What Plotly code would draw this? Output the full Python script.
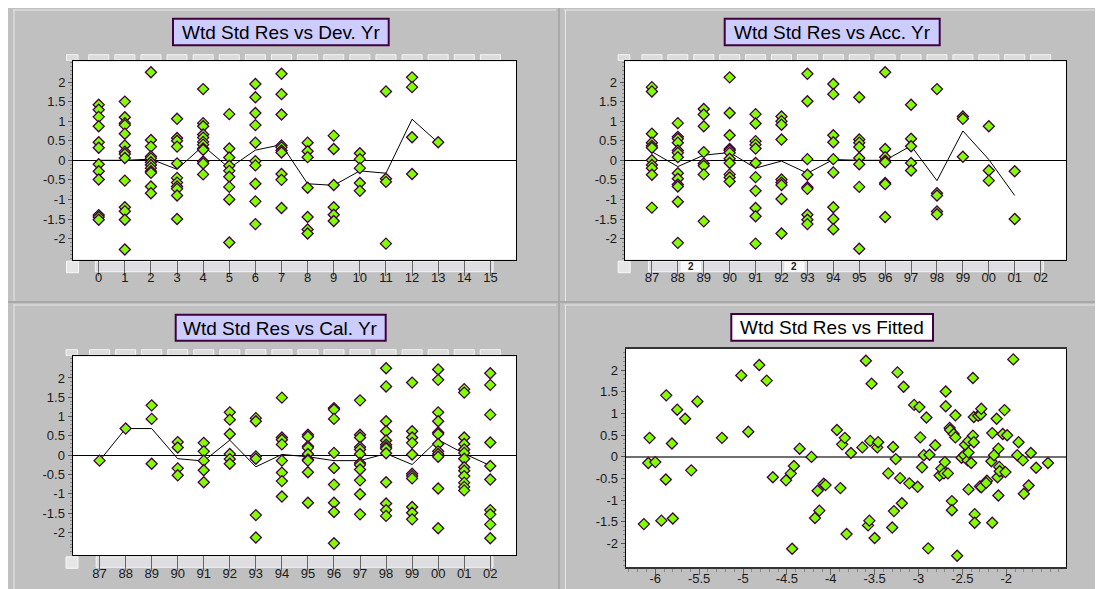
import plotly.graph_objects as go

# ---------------- data ----------------
dev_labels = [str(i) for i in range(16)]
dev_res = [
    [1.42, 1.29, 1.11, 0.87, 0.46, 0.32, -0.1, -0.28, -0.49, -1.4, -1.45, -1.52],
    [1.5, 1.1, 0.95, 0.9, 0.68, 0.38, 0.22, 0.16, 0.06, -0.52, -1.2, -1.3, -1.52, -2.28],
    [2.25, 0.52, 0.35, 0.1, 0.05, -0.05, -0.12, -0.2, -0.28, -0.32, -0.67, -0.84],
    [1.06, 0.57, 0.5, 0.35, -0.08, -0.45, -0.57, -0.67, -0.73, -0.9, -1.5],
    [1.82, 0.95, 0.87, 0.66, 0.58, 0.47, 0.4, 0.3, 0.27, -0.03, -0.08, -0.36],
    [1.18, 0.3, 0.07, -0.14, -0.27, -0.42, -0.68, -1.0, -2.1],
    [1.95, 1.61, 1.21, 0.9, 0.45, -0.02, -0.13, -0.6, -1.05, -1.63],
    [2.21, 1.69, 1.17, 0.38, 0.33, 0.25, 0.2, -0.35, -0.5, -1.22],
    [0.45, 0.23, 0.08, -0.7, -1.45, -1.77, -1.87],
    [0.63, 0.29, -0.63, -1.2, -1.39, -1.55],
    [0.18, 0.03, -0.2, -0.58, -0.78],
    [1.76, -0.47, -0.55, -2.13],
    [2.12, 1.87, 0.59, -0.35],
    [0.46],
]
dev_mean = [0.0, 0.0, 0.03, -0.23, 0.37, -0.2, 0.26, 0.4, -0.6, -0.64, -0.27, -0.33, 1.05, 0.45]

yr_labels = ["87", "88", "89", "90", "91", "92", "93", "94", "95", "96",
             "97", "98", "99", "00", "01", "02"]
acc_res = [
    [1.87, 1.76, 0.68, 0.45, 0.37, 0.32, 0.0, -0.12, -0.2, -0.37, -1.21],
    [0.95, 0.6, 0.55, 0.45, 0.25, 0.19, 0.08, -0.33, -0.47, -0.62, -0.67, -1.06, -2.11],
    [1.31, 1.17, 0.87, 0.21, -0.08, -0.14, -0.36, -1.56],
    [2.12, 1.21, 0.64, 0.29, 0.25, 0.19, 0.04, -0.07, -0.36, -0.44, -0.54],
    [1.18, 0.94, 0.49, 0.4, 0.3, -0.07, -0.43, -0.78, -1.22, -1.43, -2.13],
    [1.12, 1.0, 0.91, 0.53, -0.49, -0.57, -0.63, -0.99, -1.87],
    [2.21, 1.51, 0.03, -0.37, -0.69, -0.73, -1.39, -1.52, -1.63],
    [1.95, 1.69, 0.64, 0.46, 0.03, -0.31, -1.2, -1.5, -1.76],
    [1.61, 0.53, 0.45, 0.34, 0.06, -0.1, -0.68, -2.26],
    [2.25, 0.29, 0.08, -0.01, -0.05, -0.58, -0.61, -1.45],
    [1.42, 0.55, 0.36, -0.07, -0.26],
    [1.82, -0.84, -0.9, -1.31, -1.38],
    [1.12, 1.06, 0.09],
    [0.87, -0.26, -0.52],
    [-0.28, -1.5],
]
acc_mean = [0.22, -0.16, 0.13, 0.2, -0.2, -0.02, -0.33, 0.02, 0.0, 0.0, 0.37, -0.52, 0.75, 0.02, -0.9]

cal_res = [
    [-0.14],
    [0.69],
    [1.29, 0.94, -0.22],
    [0.34, 0.2, -0.34, -0.52],
    [0.32, 0.1, -0.14, -0.39, -0.7],
    [1.11, 0.92, 0.55, 0.03, -0.1, -0.22],
    [0.96, 0.88, -0.03, -0.09, -1.55, -2.13],
    [1.49, 0.46, 0.4, 0.28, -0.14, -0.45, -0.67, -1.07],
    [0.53, 0.48, 0.23, 0.19, 0.03, -0.11, -0.14, -0.44, -1.23],
    [1.22, 1.18, 0.94, 0.06, -0.33, -0.76, -1.23, -1.47, -2.28],
    [1.42, 0.53, 0.46, 0.21, 0.15, 0.03, -0.2, -0.25, -0.37, -0.65, -1.01, -1.53],
    [2.25, 1.78, 0.88, 0.62, 0.38, 0.27, 0.21, 0.17, 0.05, -0.7, -1.25, -1.42, -1.57],
    [1.88, 0.62, 0.46, 0.32, 0.02, -0.48, -0.54, -0.6, -1.34, -1.49, -1.66],
    [2.22, 1.95, 1.11, 0.88, 0.59, 0.55, 0.29, 0.1, 0.03, -0.04, -0.86, -1.89],
    [1.71, 1.62, 0.46, 0.29, 0.15, 0.06, -0.09, -0.31, -0.4, -0.54, -0.71, -0.82, -0.91],
    [2.12, 1.82, 1.05, 0.33, -0.28, -0.63, -1.42, -1.53, -1.79, -2.15],
]
cal_mean = [-0.14, 0.69, 0.69, -0.09, -0.15, 0.39, -0.3, 0.02, -0.04, -0.14, -0.14, 0.04, -0.24, 0.4, 0.04, -0.27]

fit_x = [-6.065, -5.875, -5.81, -5.75, -5.66, -5.52, -5.24, -5.02, -4.94, -4.815,
         -4.73, -4.355, -3.93, -3.87, -3.84, -3.77, -3.64, -3.60, -3.55, -3.535,
         -3.47, -3.46, -3.29, -3.24, -3.17, -3.05, -2.99, -2.98, -2.91, -2.81,
         -2.69, -2.69, -2.645, -2.64, -2.6, -2.58, -2.58, -2.47, -2.43, -2.38,
         -2.38, -2.37, -2.37, -2.32, -2.29, -2.285, -2.16, -2.11, -2.09, -2.02,
         -2.04, -1.99, -1.92, -1.86, -1.72,
         -6.13, -6.08, -6.0, -5.93, -5.88, -5.80, -5.59, -4.66, -4.51, -4.455,
         -4.44, -4.42, -4.22, -4.18, -4.15, -4.13, -4.08, -4.06, -3.89, -3.82,
         -3.575, -3.56, -3.5, -3.345, -3.30, -3.28, -3.26, -3.21, -3.19, -3.105,
         -3.01, -2.96, -2.94, -2.89, -2.875, -2.76, -2.74, -2.71, -2.70, -2.665,
         -2.62, -2.62, -2.56, -2.51, -2.48, -2.44, -2.43, -2.43, -2.40, -2.36,
         -2.36, -2.30, -2.285, -2.22, -2.23, -2.17, -2.16, -2.14, -2.10, -2.09,
         -2.08, -2.075, -2.01, -1.875, -1.81, -1.80, -1.745, -1.66, -1.525]
fit_y = [0.44, 1.42, 0.31, 1.09, 0.88, 1.28, 0.44, 1.88, 0.58, 2.12,
         1.76, 0.19, 0.62, 0.29, 0.44, 0.09, 0.22, 2.22, 0.37, 1.69,
         0.22, 0.34, 0.23, 1.95, 1.62, 1.2, 1.15, 0.45, 0.91, 0.27,
         1.51, 1.17, 0.67, 0.62, 0.53, 0.96, 0.45, 0.28, 0.37, 1.82,
         0.49, 0.92, 0.34, 0.95, 0.98, 1.11, 0.55, 0.88, 0.19, 1.08,
         0.53, 0.5, 2.25, 0.34, 0.09,
         -1.55, -0.14, -0.12, -1.47, -0.52, -1.42, -0.31, -0.47, -0.54, -0.38,
         -2.12, -0.21, 0.0, -1.41, -0.78, -1.24, -0.62, -0.65, -0.72, -1.78,
         -1.58, -1.47, -1.87, -0.38, -1.63, -1.25, -0.05, -0.49, -1.07, -0.61,
         -0.69, -0.24, 0.04, -2.11, 0.05, -0.43, -0.27, -0.38, -0.12, -0.38,
         -1.02, -1.23, -2.28, -0.02, 0.04, -0.08, 0.1, -0.75, -0.14, -1.32,
         -1.52, -0.68, -0.7, -0.55, -0.6, -0.1, -1.52, 0.04, -0.47, -0.89,
         -0.23, -0.33, -0.35, 0.04, -0.08, -0.85, -0.66, -0.25, -0.14]

titles = ["Wtd Std Res vs Dev. Yr", "Wtd Std Res vs Acc. Yr",
          "Wtd Std Res vs Cal. Yr", "Wtd Std Res vs Fitted"]

y_tickvals = [-2, -1.5, -1, -0.5, 0, 0.5, 1, 1.5, 2]
y_ticktext = ["-2", "-1.5", "-1", "-0.5", "0", "0.5", "1", "1.5", "2"]
fx_tickvals = [-6, -5.5, -5, -4.5, -4, -3.5, -3, -2.5, -2]
fx_ticktext = ["-6", "-5.5", "-5", "-4.5", "-4", "-3.5", "-3", "-2.5", "-2"]

# ---------------- layout helpers ----------------
W, H = 1103, 589
FONT = "Arial, 'Liberation Sans', sans-serif"
GREEN = "#80ff00"
PURPLE = "#400040"


def px(x):
    return x / W


def py(y):
    return 1 - y / H


# panel pixel geometry (left, right, top, bottom) and axis ranges
panels = [
    dict(l=65, r=508, t=53.3, b=251.7, xr=[-0.985, 15.98], yr=[-2.54, 2.53]),
    dict(l=616.7, r=1058.3, t=53.3, b=251.7, xr=[-1.05, 15.99], yr=[-2.54, 2.53]),
    dict(l=64.5, r=508.3, t=348.3, b=547.3, xr=[-1.04, 16.0], yr=[-2.59, 2.56]),
    dict(l=617.7, r=1058.3, t=341, b=559, xr=[-6.337, -1.316], yr=[-2.54, 2.49]),
]


def xpix(p, v):
    g = panels[p]
    return g["l"] + (v - g["xr"][0]) / (g["xr"][1] - g["xr"][0]) * (g["r"] - g["l"])


fig = go.Figure()

marker = dict(symbol="diamond", size=8.5, color=GREEN, line=dict(color=PURPLE, width=1.3))


def add_cat_panel(idx, cols, means):
    xs, ys = [], []
    for i, col in enumerate(cols):
        xs += [i] * len(col)
        ys += col
    sfx = "" if idx == 0 else str(idx + 1)
    fig.add_trace(go.Scatter(x=list(range(len(means))), y=means, mode="lines",
                             line=dict(color="black", width=1),
                             xaxis="x" + sfx, yaxis="y" + sfx, showlegend=False))
    fig.add_trace(go.Scatter(x=xs, y=ys, mode="markers", marker=marker,
                             xaxis="x" + sfx, yaxis="y" + sfx, showlegend=False))


add_cat_panel(0, dev_res, dev_mean)
add_cat_panel(1, acc_res, acc_mean)
add_cat_panel(2, cal_res, cal_mean)
fig.add_trace(go.Scatter(x=fit_x, y=fit_y, mode="markers", marker=marker,
                         xaxis="x4", yaxis="y4", showlegend=False))

tickfont = dict(family=FONT, size=13, color="#1a1a1a")
layout = dict(
    width=W, height=H, margin=dict(l=0, r=0, t=0, b=0),
    paper_bgcolor="#c0c0c0", plot_bgcolor="white", showlegend=False,
)

for i, g in enumerate(panels):
    sfx = "" if i == 0 else str(i + 1)
    xa = dict(domain=[px(g["l"]), px(g["r"])], range=g["xr"], anchor="y" + sfx,
              showgrid=False, zeroline=False, showline=True, mirror=True,
              linecolor="black", linewidth=1, ticks="outside", tickfont=tickfont,
              tickcolor="#666666", fixedrange=True)
    if i < 3:
        labels = dev_labels if i == 0 else yr_labels
        xa.update(tickmode="array", tickvals=list(range(16)), ticktext=labels,
                  ticklen=15, tickwidth=1, ticklabelstandoff=-9)
    else:
        xa.update(tickmode="array", tickvals=fx_tickvals, ticktext=fx_ticktext,
                  ticklen=6, tickwidth=1, ticklabelstandoff=-8,
                  linecolor="#333333", linewidth=2,
                  minor=dict(dtick=0.1, tick0=0, ticks="outside", ticklen=3,
                             tickcolor="#888888", showgrid=False))
    ya = dict(domain=[py(g["b"]), py(g["t"])], range=g["yr"], anchor="x" + sfx,
              showgrid=False, zeroline=True,
              zerolinecolor="black" if i < 3 else "#707070",
              zerolinewidth=1 if i < 3 else 2,
              showline=True, mirror=True, linecolor="black", linewidth=1,
              tickmode="array", tickvals=y_tickvals, ticktext=y_ticktext,
              ticks="outside", ticklen=4, tickcolor="#555555", tickfont=tickfont,
              minor=dict(dtick=0.1, tick0=0, ticks="outside", ticklen=2,
                         tickcolor="#888888", showgrid=False),
              fixedrange=True)
    layout["xaxis" + sfx] = xa
    layout["yaxis" + sfx] = ya

shapes = []
annotations = []


def rect(x0, y0, x1, y1, fill, line="rgba(0,0,0,0)", lw=1, layer="below"):
    shapes.append(dict(type="rect", xref="paper", yref="paper",
                       x0=px(x0), x1=px(x1), y0=py(y1), y1=py(y0),
                       fillcolor=fill, line=dict(color=line, width=lw), layer=layer))


def hline(x0, x1, y, color, w=1):
    shapes.append(dict(type="line", xref="paper", yref="paper", x0=px(x0), x1=px(x1),
                       y0=py(y), y1=py(y), line=dict(color=color, width=w), layer="below"))


def vline(x, y0, y1, color, w=1):
    shapes.append(dict(type="line", xref="paper", yref="paper", x0=px(x), x1=px(x),
                       y0=py(y0), y1=py(y1), line=dict(color=color, width=w), layer="below"))


# window-like panel borders
hline(5, 548, 2, "#e6e6e6")
hline(556, 1100, 2, "#e6e6e6")
vline(6, 2, 293, "#e6e6e6")
vline(557.5, 2, 293, "#e6e6e6")
vline(551, 0, 589, "#a8a8a8", 2)
hline(0, 1103, 294, "#a8a8a8", 2)
hline(5, 548, 297, "#e6e6e6")
hline(556, 1100, 297, "#e6e6e6")
vline(6, 297, 587, "#e6e6e6")
vline(557.5, 297, 587, "#e6e6e6")

# scroll-bar like strips for the three categorical panels
for i in range(3):
    g = panels[i]
    top = g["t"]
    bot = g["b"]
    rect(g["l"] - 6.5, top - 6.6, g["l"] + 5, top - 1, "#dcdcdc", "#f4f4f4")
    for k in range(16):
        c = xpix(i, k)
        rect(c - 10, top - 6.6, c + 10, top - 1, "#dcdcdc", "#f4f4f4")
    rect(g["l"] - 6.5, bot + 1.5, g["l"] + 5.5, bot + 13, "#e6e6e6", "#f8f8f8")
    rect(xpix(i, 0) - 3.4, bot + 1.6, xpix(i, 15) + 2.7, bot + 12, "#dedee2", "#f4f4f4")

# small "2" markers in the Acc. Yr bottom strip
for k in (1.5, 5.5):
    c = xpix(1, k)
    rect(c - 9.5, panels[1]["b"] + 2.5, c + 9.5, panels[1]["b"] + 11.5, "#f8f8f8", "#ffffff",
         layer="above")
    annotations.append(dict(xref="paper", yref="paper", x=px(c), y=py(panels[1]["b"] + 7),
                            text="<b>2</b>", showarrow=False,
                            font=dict(family=FONT, size=10, color="#222222"),
                            xanchor="center", yanchor="middle"))

# title boxes
boxes = [
    (165, 380.7, 10.7, 37.3, "#ccccff"),
    (716.7, 931.7, 10.7, 37.3, "#ccccff"),
    (167.7, 377.7, 306.7, 332.7, "#ccccff"),
    (723.3, 925, 306, 332.7, "#ffffff"),
]
for (x0, x1, y0, y1, fill), t in zip(boxes, titles):
    rect(x0, y0, x1, y1, fill, PURPLE, 2, layer="above")
    annotations.append(dict(xref="paper", yref="paper", x=px((x0 + x1) / 2),
                            y=py((y0 + y1) / 2 + 0.5), text=t, showarrow=False,
                            font=dict(family=FONT, size=19, color="black"),
                            xanchor="center", yanchor="middle"))

layout["shapes"] = shapes
layout["annotations"] = annotations
fig.update_layout(**layout)

fig.write_html("out.html")
